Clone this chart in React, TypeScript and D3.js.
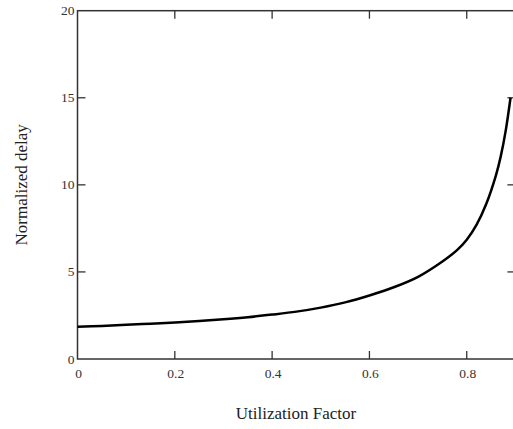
import * as d3 from "d3";
import { useEffect, useRef } from "react";

const rho = [0, 0.05, 0.1, 0.15, 0.2, 0.25, 0.3, 0.35, 0.4, 0.45, 0.5, 0.55, 0.6, 0.65, 0.7, 0.75, 0.78, 0.8, 0.82, 0.84, 0.86, 0.87, 0.88, 0.89];
const delay = [1.85, 1.9, 1.96, 2.03, 2.1, 2.18, 2.28, 2.4, 2.55, 2.72, 2.95, 3.25, 3.65, 4.12, 4.72, 5.6, 6.25, 6.85, 7.7, 8.9, 10.55, 11.65, 13.1, 15.0];
const xTicks = [0, 0.2, 0.4, 0.6, 0.8];
const yTicks = [0, 5, 10, 15, 20];

const W = 513;
const H = 429;
const margin = { left: 77.5, top: 10.7, bottom: 70 };
const xMax = 0.9;

export default function App() {
  const ref = useRef<SVGSVGElement>(null);

  useEffect(() => {
    const svg = d3.select(ref.current);
    svg.selectAll("*").remove();

    const x = d3.scaleLinear().domain([0, xMax]).range([margin.left, 515.4]);
    const y = d3.scaleLinear().domain([0, 20]).range([H - margin.bottom, margin.top]);
    const font = "'Liberation Serif', 'Times New Roman', serif";
    const frame = "#333";
    const tickLen = 8;

    // frame (right side falls just past the picture edge)
    svg
      .append("rect")
      .attr("x", x(0))
      .attr("y", y(20))
      .attr("width", x(xMax) - x(0))
      .attr("height", y(0) - y(20))
      .attr("fill", "none")
      .attr("stroke", frame)
      .attr("stroke-width", 1.5);

    // x ticks (bottom + top, inward)
    xTicks.forEach((t) => {
      if (t === 0) return;
      svg.append("line").attr("x1", x(t)).attr("x2", x(t)).attr("y1", y(0)).attr("y2", y(0) - tickLen).attr("stroke", frame).attr("stroke-width", 1.3);
      svg.append("line").attr("x1", x(t)).attr("x2", x(t)).attr("y1", y(20)).attr("y2", y(20) + tickLen).attr("stroke", frame).attr("stroke-width", 1.3);
    });
    svg
      .selectAll(".xl")
      .data(xTicks)
      .enter()
      .append("text")
      .attr("x", (d) => x(d) + 1)
      .attr("y", y(0) + 19)
      .attr("text-anchor", "middle")
      .attr("font-family", font)
      .attr("font-size", 13.5)
      .attr("fill", "#333")
      .text((d) => (d === 0 ? "0" : d3.format(".1f")(d)));

    // y ticks (left + right, inward)
    yTicks.forEach((t) => {
      if (t === 0 || t === 20) return;
      svg.append("line").attr("x1", x(0)).attr("x2", x(0) + tickLen).attr("y1", y(t)).attr("y2", y(t)).attr("stroke", frame).attr("stroke-width", 1.3);
      svg.append("line").attr("x1", x(xMax)).attr("x2", x(xMax) - tickLen).attr("y1", y(t)).attr("y2", y(t)).attr("stroke", frame).attr("stroke-width", 1.3);
    });
    svg
      .selectAll(".yl")
      .data(yTicks)
      .enter()
      .append("text")
      .attr("x", x(0) - 3)
      .attr("y", (d) => y(d) + 4.5)
      .attr("text-anchor", "end")
      .attr("font-family", font)
      .attr("font-size", 13.5)
      .attr("fill", "#333")
      .text((d) => d);

    // curve
    const pts = rho.map((r, i) => [r, delay[i]] as [number, number]);
    const line = d3
      .line<[number, number]>()
      .x((d) => x(d[0]))
      .y((d) => y(d[1]))
      .curve(d3.curveCatmullRom.alpha(0.5));
    svg
      .append("path")
      .attr("d", line(pts))
      .attr("fill", "none")
      .attr("stroke", "#000")
      .attr("stroke-width", 2.5);

    // axis titles
    svg
      .append("text")
      .attr("x", 296)
      .attr("y", 419)
      .attr("text-anchor", "middle")
      .attr("font-family", font)
      .attr("font-size", 17)
      .attr("fill", "#222")
      .text("Utilization Factor");
    svg
      .append("text")
      .attr("transform", `translate(27,${(y(0) + y(20)) / 2}) rotate(-90)`)
      .attr("text-anchor", "middle")
      .attr("font-family", font)
      .attr("font-size", 17)
      .attr("fill", "#222")
      .text("Normalized delay");
  }, []);

  return (
    <svg
      ref={ref}
      width={W}
      height={H}
      style={{ position: "absolute", left: 0, top: 0, background: "#fff" }}
    ></svg>
  );
}
